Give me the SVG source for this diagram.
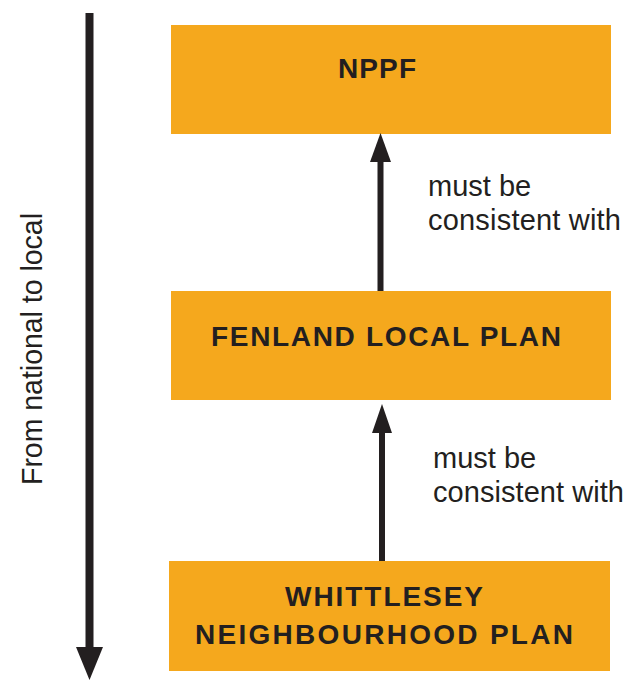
<svg xmlns="http://www.w3.org/2000/svg" width="626" height="680" viewBox="0 0 626 680">
<style>
.box{fill:#F5A81D}
.bt{font-family:"Liberation Sans",Arial,sans-serif;font-weight:bold;font-size:28px;fill:#231F20}
.lt{font-family:"Liberation Sans",Arial,sans-serif;font-size:29px;fill:#231F20}
.sh{stroke:#231F20;fill:none}
.hd{fill:#231F20}
</style>
<rect width="626" height="680" fill="#fff"/>
<g id="scale-arrow">
<line class="sh" x1="89.5" y1="13" x2="89.5" y2="650" stroke-width="8"/>
<polygon class="hd" points="76,647 103,647 89.5,680"/>
<text class="lt" transform="translate(42,349) rotate(-90)" text-anchor="middle" font-size="29" textLength="272" lengthAdjust="spacingAndGlyphs">From national to local</text>
</g>
<g id="nppf">
<rect class="box" x="171" y="25" width="440" height="109"/>
<text class="bt" x="338" y="78" textLength="78" lengthAdjust="spacing">NPPF</text>
</g>
<g id="fenland">
<rect class="box" x="171" y="291" width="440" height="109"/>
<text class="bt" x="211" y="346" textLength="350" lengthAdjust="spacing">FENLAND LOCAL PLAN</text>
</g>
<g id="whittlesey">
<rect class="box" x="169" y="561" width="441" height="110"/>
<text class="bt" x="285" y="606" textLength="198" lengthAdjust="spacing">WHITTLESEY</text>
<text class="bt" x="195" y="644" textLength="378" lengthAdjust="spacing">NEIGHBOURHOOD PLAN</text>
</g>
<g id="connectors">
<line class="sh" x1="380.5" y1="158" x2="380.5" y2="291" stroke-width="6"/>
<polygon class="hd" points="370,162 391,162 380.5,133"/>
<text class="lt" x="428" y="196">must be</text>
<text class="lt" x="428" y="230" textLength="193" lengthAdjust="spacing">consistent with</text>
<line class="sh" x1="382" y1="429" x2="382" y2="561" stroke-width="6"/>
<polygon class="hd" points="372,433 392,433 382,404"/>
<text class="lt" x="433" y="468">must be</text>
<text class="lt" x="433" y="502" textLength="191" lengthAdjust="spacing">consistent with</text>
</g>
</svg>
